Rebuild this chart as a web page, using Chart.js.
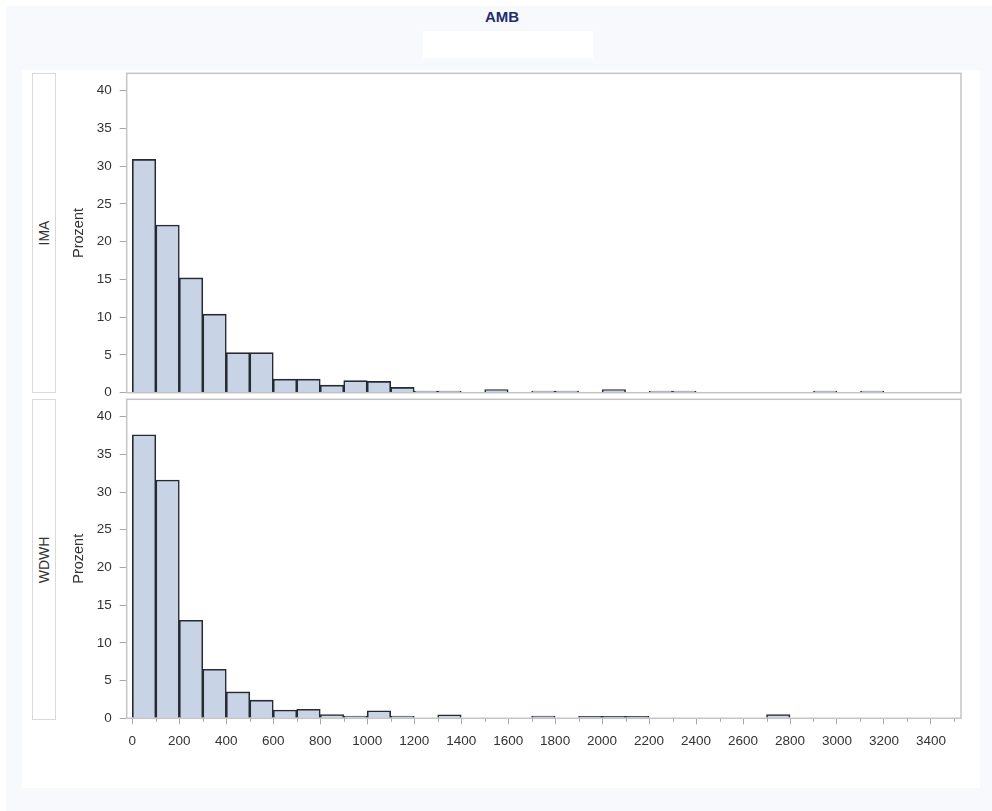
<!DOCTYPE html>
<html>
<head>
<meta charset="utf-8">
<script src="https://cdn.jsdelivr.net/npm/chart.js@4.4.1/dist/chart.umd.min.js"></script>
<style>
  body { margin: 0; background: #ffffff; width: 992px; height: 811px; position: relative; overflow: hidden;
         font-family: "Liberation Sans", Arial, sans-serif; }
  #outer { position: absolute; left: 6px; top: 6px; width: 986px; height: 805px; background: #f7f9fd; }
  #inner { position: absolute; left: 22px; top: 70px; width: 958px; height: 718px; background: #ffffff; }
  #title { position: absolute; left: 0; width: 1004px; top: 8px; text-align: center;
           font-weight: bold; font-size: 15px; color: #1f2c6e; }
  #subbox { position: absolute; left: 423px; top: 31px; width: 170px; height: 27px; background: #ffffff; }
  .rowhead { position: absolute; left: 32px; width: 22px; border: 1px solid #d9d9d9; background: #fff; }
  .rowhead span { position: absolute; left: 50%; top: 50%; transform: translate(-50%, -50%) rotate(-90deg);
                  font-size: 14px; color: #333; white-space: nowrap; }
  canvas { position: absolute; left: 0; }
</style>
</head>
<body>
<div id="outer"></div>
<div id="inner"></div>
<div id="title">AMB</div>
<div id="subbox"></div>
<div class="rowhead" style="top:73px;height:318px;"><span>IMA</span></div>
<div class="rowhead" style="top:399px;height:319px;"><span>WDWH</span></div>
<canvas id="chartIMA" width="992" height="360" style="top:55px"></canvas>
<canvas id="chartWDWH" width="992" height="405" style="top:380px"></canvas>
<script>
// Klassenmitten (Breite 100)
const binMids = [50, 150, 250, 350, 450, 550, 650, 750, 850, 950,
                 1050, 1150, 1250, 1350, 1450, 1550, 1650, 1750, 1850, 1950,
                 2050, 2150, 2250, 2350, 2450, 2550, 2650, 2750, 2850, 2950,
                 3050, 3150, 3250, 3350, 3450];

// Prozent je Klasse
const imaPct = [30.9, 22.2, 15.2, 10.4, 5.3, 5.3, 1.8, 1.8, 1.0, 1.6,
                1.5, 0.7, 0.2, 0.2, 0, 0.4, 0, 0.2, 0.2, 0,
                0.4, 0, 0.2, 0.2, 0, 0, 0, 0, 0, 0.2,
                0, 0.2, 0, 0, 0];
const wdwhPct = [37.6, 31.6, 13.0, 6.5, 3.5, 2.4, 1.1, 1.2, 0.5, 0.3,
                 1.0, 0.3, 0, 0.45, 0, 0, 0, 0.3, 0, 0.25,
                 0.25, 0.25, 0, 0, 0, 0, 0, 0.5, 0, 0,
                 0, 0, 0, 0, 0];

const xTicks = [0, 200, 400, 600, 800, 1000, 1200, 1400, 1600, 1800,
                2000, 2200, 2400, 2600, 2800, 3000, 3200, 3400];
const xMinorTicks = [100, 300, 500, 700, 900, 1100, 1300, 1500, 1700, 1900,
                     2100, 2300, 2500, 2700, 2900, 3100, 3300, 3500];
const yTicks = [0, 5, 10, 15, 20, 25, 30, 35, 40];

const X_MIN = -24, X_MAX = 3528, Y_MAX = 42.3;
const FONT = 'Liberation Sans';

// Rahmen um die Zeichenfläche + kurze Zwischenstriche an der x-Achse
const framePlugin = {
    id: 'frame',
    afterDraw(chart, args, opts) {
        const { ctx, chartArea: a } = chart;
        ctx.save();
        ctx.strokeStyle = '#c4c4c4';
        ctx.lineWidth = 1.5;
        ctx.strokeRect(a.left, a.top, a.right - a.left, a.bottom - a.top);
        if (opts.minor) {
            const x = chart.scales.x;
            ctx.strokeStyle = '#a8a8a8';
            ctx.lineWidth = 1;
            xMinorTicks.forEach(v => {
                const px = Math.round(x.getPixelForValue(v)) + 0.5;
                ctx.beginPath();
                ctx.moveTo(px, a.bottom);
                ctx.lineTo(px, a.bottom + 3.5);
                ctx.stroke();
            });
        }
        ctx.restore();
    }
};

function createHistogram(canvas, values, showX, padding) {
    return new Chart(canvas.getContext('2d'), {
        type: 'bar',
        data: {
            datasets: [{
                data: binMids.map((m, i) => ({ x: m, y: values[i] })),
                backgroundColor: '#c8d3e5',
                borderColor: '#262b33',
                borderWidth: 1.6,
                barPercentage: 1,
                categoryPercentage: 1
            }]
        },
        options: {
            responsive: false,
            animation: false,
            layout: { padding: padding },
            plugins: {
                legend: { display: false },
                tooltip: { enabled: false },
                frame: { minor: showX }
            },
            scales: {
                x: {
                    type: 'linear',
                    display: showX,
                    offset: false,
                    min: X_MIN,
                    max: X_MAX,
                    afterBuildTicks: s => { s.ticks = xTicks.map(v => ({ value: v })); },
                    afterFit: s => { if (showX) s.height = 32; },
                    border: { display: false },
                    grid: { offset: false, drawOnChartArea: false, tickLength: 6, tickColor: '#a8a8a8' },
                    ticks: {
                        autoSkip: false, maxRotation: 0, padding: 9,
                        callback: v => String(v),
                        color: '#333', font: { family: FONT, size: 13.5 }
                    }
                },
                y: {
                    min: 0,
                    max: Y_MAX,
                    afterBuildTicks: s => { s.ticks = yTicks.map(v => ({ value: v })); },
                    afterFit: s => { s.width = 61.7; },
                    border: { display: false },
                    grid: { drawOnChartArea: false, tickLength: 7, tickColor: '#a8a8a8' },
                    ticks: { padding: 8, color: '#333', font: { family: FONT, size: 13.5 } },
                    title: {
                        display: true, text: 'Prozent', color: '#333',
                        padding: { top: 5, bottom: 0 },
                        font: { family: FONT, size: 14.5 }
                    }
                }
            }
        },
        plugins: [framePlugin]
    });
}

// Zeichenflächen: oben 73–393 px, unten 399–718 px (Seitenkoordinaten)
createHistogram(document.getElementById('chartIMA'), imaPct, false,
    { left: 65, right: 31, top: 18.3, bottom: 22.3 });
createHistogram(document.getElementById('chartWDWH'), wdwhPct, true,
    { left: 65, right: 31, top: 19.3, bottom: 34.7 });
</script>
</body>
</html>
